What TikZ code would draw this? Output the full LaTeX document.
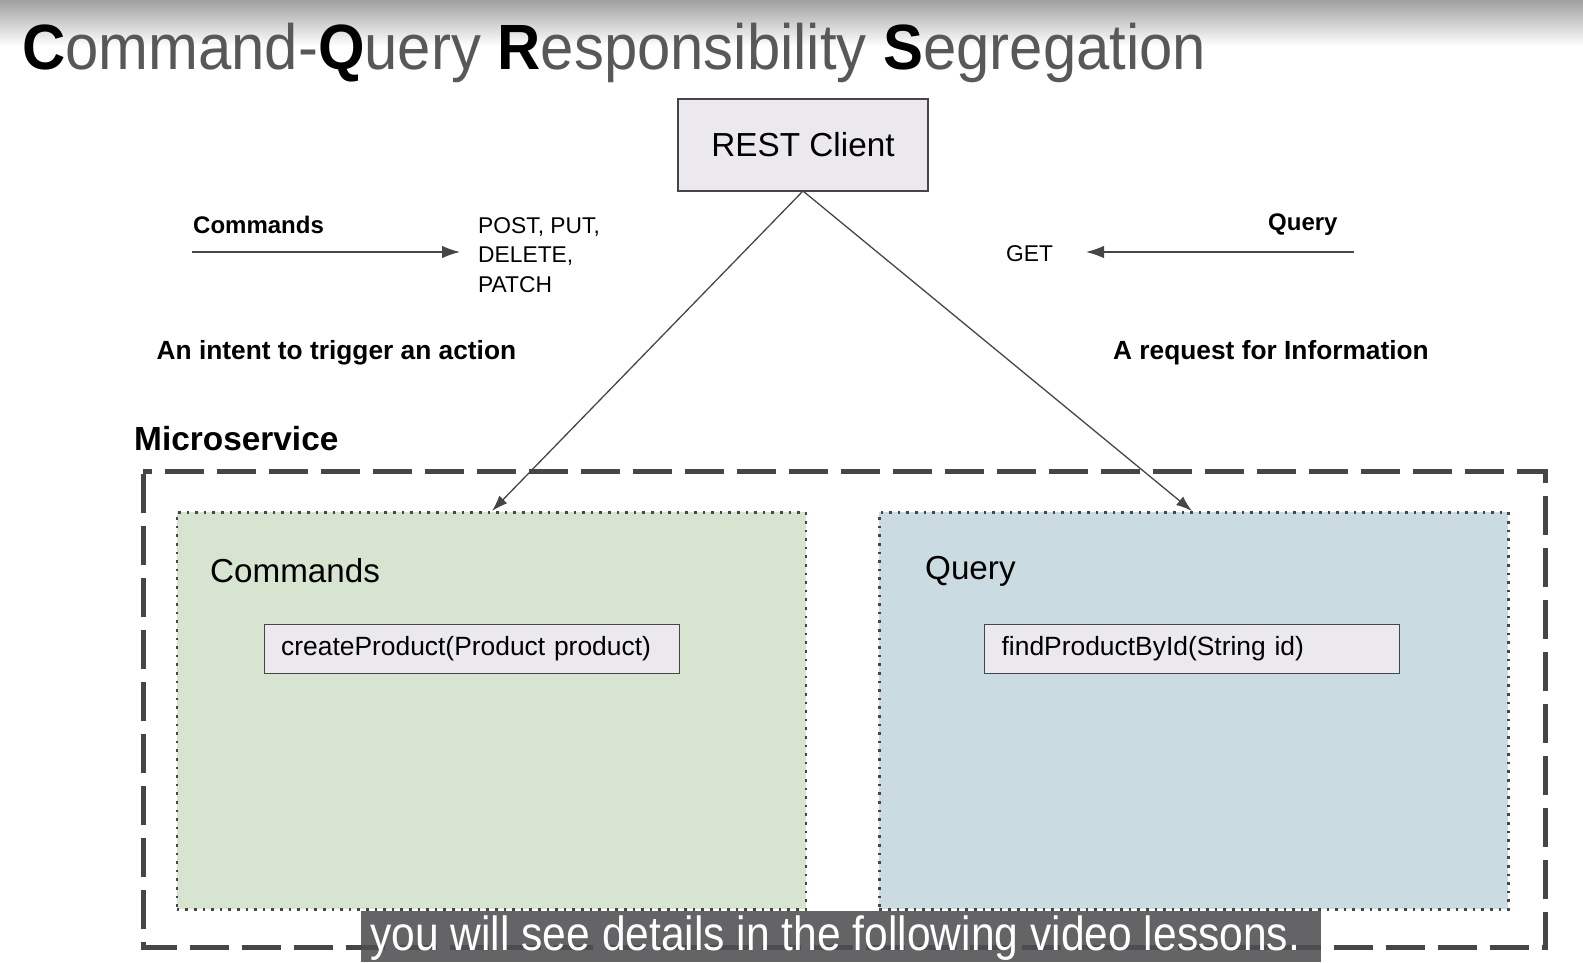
\documentclass[tikz,border=0pt]{standalone}
\usepackage{fontspec}
\setmainfont{Liberation Sans}
\usepackage{tikz}
\usetikzlibrary{arrows.meta,positioning}
\definecolor{linegray}{RGB}{70,70,70}
\definecolor{boxgray}{RGB}{235,233,238}
\definecolor{titlegray}{RGB}{88,88,88}
\definecolor{fadegray}{RGB}{160,160,160}
\definecolor{cmdgreen}{RGB}{214,228,208}
\definecolor{qryblue}{RGB}{203,219,226}
\definecolor{capgray}{RGB}{78,79,81}
\tikzstyle{client}=[rectangle, draw=linegray, line width=1.3pt, fill=boxgray, minimum width=250pt, minimum height=92pt, inner sep=0pt, outer sep=0pt, font=\fontsize{33.3}{40}\selectfont]
\tikzstyle{method}=[rectangle, draw=linegray, line width=1.3pt, fill=boxgray, anchor=west, text width=381pt, inner xsep=17pt, minimum height=49pt, inner ysep=0pt, align=left, font=\fontsize{26.4}{31}\selectfont]
\tikzstyle{side}=[rectangle, draw=linegray, line width=2.6pt, dash pattern=on 2.6pt off 6pt, anchor=north west, minimum width=629pt, minimum height=397pt, inner sep=0pt]
\tikzstyle{note}=[inner sep=0pt, anchor=base west]
\tikzstyle{heading}=[note, font=\bfseries\fontsize{24}{29}\selectfont]
\tikzstyle{intent}=[note, font=\bfseries\fontsize{26.3}{31}\selectfont]
\tikzstyle{verb}=[note, font=\fontsize{22.8}{29.5}\selectfont]
\tikzstyle{part}=[note, font=\fontsize{33.2}{40}\selectfont]
\tikzstyle{flow}=[draw=linegray, line width=1.3pt, -{Latex[length=18pt,width=12.5pt]}]

\begin{document}
\begin{tikzpicture}[x=1pt, y=-1pt]
      %
      \path[use as bounding box] (0,0) rectangle (1583,962);
      \shade[top color=fadegray, bottom color=white] (0,0) rectangle (1583,46);
      %
      % Title
      %
      \node[note, font=\fontsize{64}{70}\selectfont] (title) at (22,69) {\scalebox{0.935}[1]{\textbf{C}\textcolor{titlegray}{ommand-}\textbf{Q}\textcolor{titlegray}{uery }\textbf{R}\textcolor{titlegray}{esponsibility }\textbf{S}\textcolor{titlegray}{egregation}}};
      %
      % REST Client
      %
      \node[client] (client) at (803,145) {REST Client};
      %
      % Commands --> POST, PUT, DELETE, PATCH
      %
      \node[heading] (cmdhead) at (193,233) {Commands};
      \node[verb, align=left] (verbs) at (478,292) {POST, PUT,\\ DELETE,\\ PATCH};
      \coordinate (cmdstart) at (192,252);
      \coordinate (cmdend) at (460,252);
      \draw[flow] (cmdstart) -- (cmdend);
      \node[intent] (cmdintent) at (156.5,359) {An intent to trigger an action};
      %
      % Query --> GET
      %
      \node[heading] (qryhead) at (1268,230) {Query};
      \node[verb] (get) at (1006,261.5) {GET};
      \coordinate (qrystart) at (1354,252);
      \coordinate (qryend) at (1086,252);
      \draw[flow] (qrystart) -- (qryend);
      \node[intent] (qryintent) at (1113,359) {A request for Information};
      %
      % Microservice
      %
      \node[note, font=\bfseries\fontsize{33.4}{40}\selectfont] (service) at (134,450) {Microservice};
      \draw[linegray, line width=5pt, dash pattern=on 39pt off 13pt, dash phase=-2pt] (143,471.5) rectangle (1545,947);
      %
      % Commands side --> createProduct
      %
      \node[side, fill=cmdgreen] (cmdside) at (175.5,511) {};
      \node[part] (cmdtitle) at (210,582) {Commands};
      \node[method] (create) at (263.5,648.7) {createProduct(Product product)};
      %
      % Query side --> findProductById
      %
      \node[side, fill=qryblue] (qryside) at (878,511) {};
      \node[part] (qrytitle) at (925,579) {Query};
      \node[method] (find) at (984,648.7) {findProductById(String id)};
      %
      % REST Client --> Commands / Query
      %
      \coordinate (cmdin) at (492,511);
      \coordinate (qryin) at (1192,511);
      \draw[flow, -{Latex[length=16pt,width=11pt]}] (client.south) -- (cmdin);
      \draw[flow, -{Latex[length=16pt,width=11pt]}] (client.south) -- (qryin);
      %
      % Caption
      %
      \node[rectangle, fill=capgray, fill opacity=0.88, anchor=north west, minimum width=959.5pt, minimum height=51pt, inner sep=0pt] (capbox) at (361,911) {};
      \node[note, text=white, font=\fontsize{48}{56}\selectfont] (caption) at (370,950) {\scalebox{0.887}[1]{you will see details in the following video lessons.}};
      %
\end{tikzpicture}
\end{document}
